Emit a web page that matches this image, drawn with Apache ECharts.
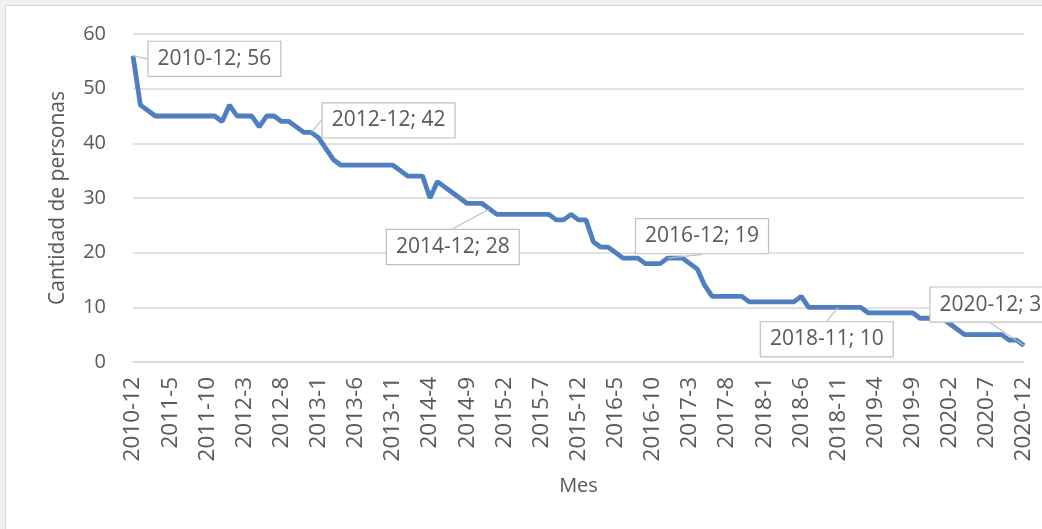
<!DOCTYPE html>
<html>
<head>
<meta charset="utf-8">
<script src="https://cdn.jsdelivr.net/npm/echarts@6/dist/echarts.min.js"></script>
<style>
html,body{margin:0;padding:0;background:#f0f0f0;}
#frame{position:absolute;left:5px;top:5px;width:1037px;height:524px;background:#fff;border-left:1px solid #d9d9d9;border-top:1px solid #d9d9d9;box-sizing:border-box;}
#chart{position:absolute;left:-6px;top:-6px;width:1042px;height:529px;}
</style>
</head>
<body>
<div id="frame"><div id="chart"></div></div>
<script>
// Months 2010-12 .. 2020-12
const startYear = 2010, startMonth = 12, monthCount = 121;
const categories = [];
for (let i = 0; i < monthCount; i++) {
  const m0 = startMonth - 1 + i;
  categories.push((startYear + Math.floor(m0 / 12)) + '-' + (m0 % 12 + 1));
}
// Cantidad de personas per month
const personas = [
  56,47,46,45,45,45,45,45,45,45,45,45,44,47,45,45,45,43,45,45,
  44,44,43,42,42,41,39,37,36,36,36,36,36,36,36,36,35,34,34,34,
  30,33,32,31,30,29,29,29,28,27,27,27,27,27,27,27,27,26,26,27,
  26,26,22,21,21,20,19,19,19,18,18,18,19,19,19,18,17,14,12,12,
  12,12,12,11,11,11,11,11,11,11,12,10,10,10,10,10,10,10,10,9,
  9,9,9,9,9,9,8,8,8,8,7,6,5,5,5,5,5,5,4,4,3
];
// Labelled months
const labelledMonths = ['2010-12','2012-12','2014-12','2016-12','2018-11','2020-12'];
const labelShift = {
  '2010-12':[10,3], '2012-12':[6,-12], '2014-12':[-108,38],
  '2016-12':[-37,-22], '2018-11':[-83,32], '2020-12':[-99,-41]
};

const seriesData = personas.map((v, i) => {
  if (labelledMonths.includes(categories[i])) return {value: v, label: {show: true}};
  return v;
});

const txt = '#595959';
const font = 'Open Sans, Liberation Sans, sans-serif';
const chart = echarts.init(document.getElementById('chart'));
chart.setOption({
  animation: false,
  backgroundColor: 'transparent',
  textStyle: {fontFamily: font},
  grid: {left: 133, right: 18, top: 34, bottom: 167},
  xAxis: {
    type: 'category',
    data: categories,
    boundaryGap: false,
    name: 'Mes',
    nameLocation: 'middle',
    nameGap: 114,
    nameTextStyle: {color: txt, fontSize: 20, fontFamily: font},
    axisLine: {lineStyle: {color: '#d9d9d9', width: 1.5}},
    axisTick: {show: false},
    axisLabel: {interval: 4, rotate: 90, color: txt, fontSize: 22.5, margin: 15, fontFamily: font},
    splitLine: {show: false}
  },
  yAxis: {
    type: 'value',
    min: 0, max: 60, interval: 10,
    name: 'Cantidad de personas',
    nameLocation: 'middle',
    nameGap: 64,
    nameTextStyle: {color: txt, fontSize: 21, fontFamily: font},
    axisLine: {show: false},
    axisTick: {show: false},
    axisLabel: {color: txt, fontSize: 20, margin: 27, fontFamily: font},
    splitLine: {lineStyle: {color: '#d9d9d9', width: 1.5}}
  },
  series: [{
    type: 'line',
    data: seriesData,
    symbol: 'circle',
    symbolSize: 1,
    showSymbol: true,
    lineStyle: {color: '#4f7fc0', width: 4.8},
    itemStyle: {color: '#4f7fc0'},
    label: {
      show: false,
      position: 'right',
      distance: 5,
      formatter: '{b}; {c}',
      color: txt,
      fontSize: 21,
      fontFamily: font,
      backgroundColor: '#ffffff',
      borderColor: '#bfbfbf',
      borderWidth: 1.2,
      padding: [7, 9, 6, 9]
    },
    labelLine: {show: true, lineStyle: {color: '#bfbfbf', width: 1.2}},
    labelLayout: function (p) {
      const s = labelShift[categories[p.dataIndex]];
      return s ? {dx: s[0], dy: s[1]} : {};
    }
  }]
});
</script>
</body>
</html>
